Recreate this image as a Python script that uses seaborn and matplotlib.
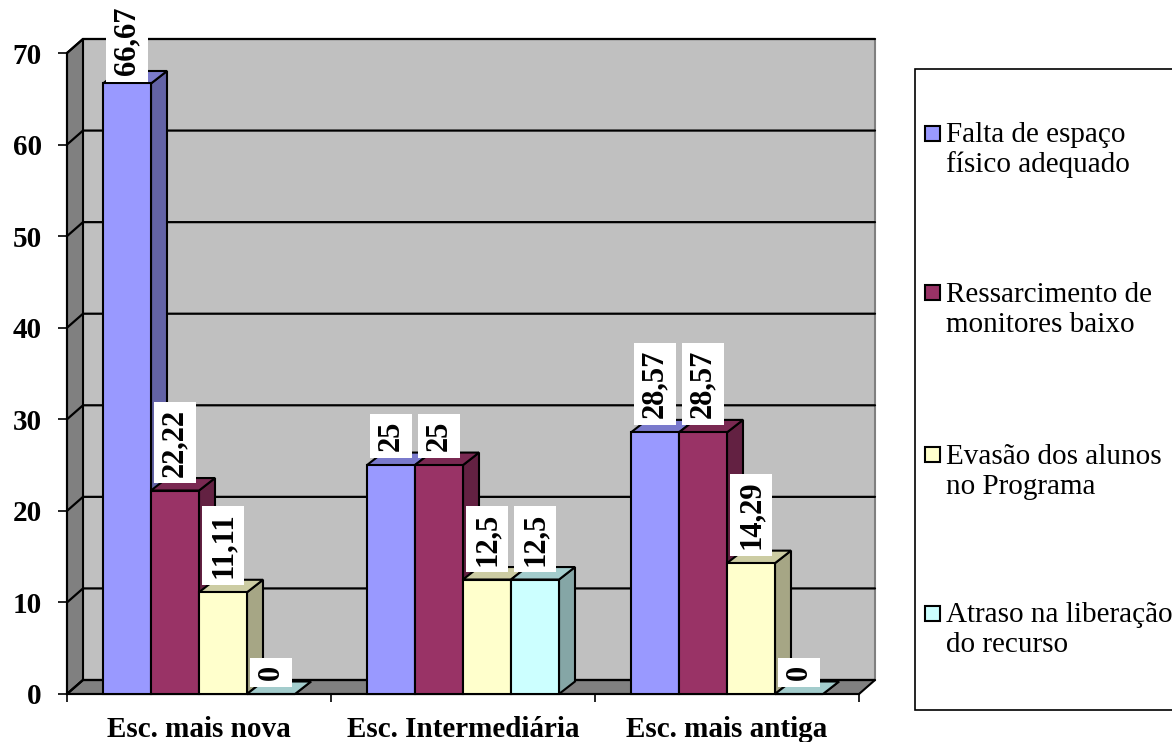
import matplotlib
matplotlib.use("Agg")
import matplotlib.pyplot as plt
from matplotlib.patches import Polygon, Rectangle
import numpy as np
import pandas as pd
import seaborn as sns

# --- data -------------------------------------------------------------
categories = ["Esc. mais nova", "Esc. Intermediária", "Esc. mais antiga"]
series_names = [
    "Falta de espaço\nfísico adequado",
    "Ressarcimento de\nmonitores baixo",
    "Evasão dos alunos\nno Programa",
    "Atraso na liberação\ndo recurso",
]
falta_espaco = [66.67, 25, 28.57]
ressarcimento = [22.22, 25, 28.57]
evasao = [11.11, 12.5, 14.29]
atraso = [0, 12.5, 0]
y_ticks = [0, 10, 20, 30, 40, 50, 60, 70]

colors = ["#9999FF", "#993366", "#FFFFCC", "#CCFFFF"]

rows = []
for name, vals in zip(series_names, [falta_espaco, ressarcimento, evasao, atraso]):
    for cat, v in zip(categories, vals):
        rows.append({"escola": cat, "motivo": name, "valor": v})
df = pd.DataFrame(rows)

# --- style ------------------------------------------------------------
sns.set_theme(style="white")
plt.rcParams["font.family"] = ["Liberation Serif", "DejaVu Serif"]
plt.rcParams["text.color"] = "black"
plt.rcParams["axes.labelcolor"] = "black"
plt.rcParams["xtick.color"] = "black"
plt.rcParams["ytick.color"] = "black"

W, H = 1172, 742
fig = plt.figure(figsize=(W / 100, H / 100), dpi=100)
ax = fig.add_axes([67 / W, (H - 694) / H, 792 / W, 641 / H])
ax.patch.set_visible(False)

sns.barplot(
    data=df, x="escola", y="valor", hue="motivo",
    order=categories, hue_order=series_names, palette=colors,
    width=192 / 264, saturation=1, edgecolor="black", linewidth=1.5,
    errorbar=None, legend=False, ax=ax,
)
bars = [p for p in ax.patches if isinstance(p, Rectangle)]

x0, x1 = -0.5, 2.5
ytop = 70
ax.set_xlim(x0, x1)
ax.set_ylim(0, ytop)

# pixel -> data conversion for the pseudo-3D depth
px_x = 792 / (x1 - x0)
px_y = 641 / ytop
wdx, wdy = 16 / px_x, 14 / px_y      # wall depth
bdx, bdy = 16 / px_x, 12.5 / px_y    # bar depth

# --- walls, floor and gridlines ----------------------------------------
ax.add_patch(Polygon([(x0 + wdx, wdy), (x1 + wdx, wdy), (x1 + wdx, ytop + wdy), (x0 + wdx, ytop + wdy)],
                     closed=True, fc="#C0C0C0", ec="#808080", lw=1.5, zorder=0.5, clip_on=False))
ax.add_patch(Polygon([(x0, 0), (x0 + wdx, wdy), (x0 + wdx, ytop + wdy), (x0, ytop)],
                     closed=True, fc="#808080", ec="black", lw=1.5, zorder=0.6, clip_on=False))
ax.add_patch(Polygon([(x0, 0), (x1, 0), (x1 + wdx, wdy), (x0 + wdx, wdy)],
                     closed=True, fc="#808080", ec="black", lw=1.5, zorder=0.6, clip_on=False))
for v in y_ticks:
    ax.plot([x0, x0 + wdx, x1 + wdx], [v, v + wdy, v + wdy], color="black", lw=1.6,
            zorder=0.8, clip_on=False, solid_joinstyle="miter")


def shade(c, f):
    r, g, b = matplotlib.colors.to_rgb(c)
    return (r * f, g * f, b * f)


def fmt(v):
    return f"{v:g}".replace(".", ",")


# --- 3D faces and value labels ----------------------------------------
order = sorted(range(len(bars)), key=lambda i: bars[i].get_x())
labels = []
for n, i in enumerate(order):
    p = bars[i]
    x, w, h = p.get_x(), p.get_width(), p.get_height()
    fc = p.get_facecolor()
    p.set_zorder(3 + 2 * n)
    p.set_clip_on(False)
    side = Polygon([(x + w, 0), (x + w + bdx, bdy), (x + w + bdx, h + bdy), (x + w, h)],
                   closed=True, fc=shade(fc, 0.65), ec="black", lw=1.5, zorder=2 + 2 * n,
                   clip_on=False, joinstyle="miter")
    top = Polygon([(x, h), (x + bdx, h + bdy), (x + w + bdx, h + bdy), (x + w, h)],
                  closed=True, fc=shade(fc, 0.8), ec="black", lw=1.5, zorder=2 + 2 * n,
                  clip_on=False, joinstyle="miter")
    ax.add_patch(side)
    ax.add_patch(top)
    ann = ax.annotate(
        fmt(h), xy=(x + w / 2, h), xytext=(0, 10), textcoords="offset points",
        rotation=90, ha="center", va="bottom", fontsize=22, fontweight="bold",
        color="black",
        bbox=dict(boxstyle="square,pad=0.22", fc="white", ec="none"),
        zorder=100, annotation_clip=False,
    )
    labels.append(ann)

# --- axes styling -----------------------------------------------------
ax.set_xlabel("")
ax.set_ylabel("")
ax.set_yticks(y_ticks)
ax.set_yticklabels([str(t) for t in y_ticks], fontsize=21, fontweight="bold", color="black")
ax.set_xticks(range(len(categories)))
ax.set_xticklabels(categories, fontsize=21, fontweight="bold", color="black")
ax.set_xticks([x0 + k for k in range(len(categories) + 1)], minor=True)
ax.tick_params(axis="y", direction="out", length=6.5, width=1.2, pad=11.5, colors="black", left=True)
ax.tick_params(axis="x", which="major", length=0, pad=16, colors="black")
ax.tick_params(axis="x", which="minor", direction="out", length=6, width=1.2, colors="black", bottom=True)
for s in ["top", "right"]:
    ax.spines[s].set_visible(False)
for s in ["left", "bottom"]:
    ax.spines[s].set_color("black")
    ax.spines[s].set_linewidth(1.5)
    ax.spines[s].set_zorder(1)

# keep the value boxes inside the figure
fig.canvas.draw()
renderer = fig.canvas.get_renderer()
for ann in labels:
    bb = ann.get_bbox_patch().get_window_extent(renderer)
    if bb.y1 > H:
        ann.xyann = (0, 10 - (bb.y1 - H) * 72 / 100)

# --- legend -----------------------------------------------------------
fig.add_artist(Rectangle((915 / W, 1 - 710 / H), 0.5, (710 - 69) / H, transform=fig.transFigure,
                         fc="white", ec="black", lw=1.2))
entry_centers = [133, 292, 454, 613]
for c, name, col in zip(entry_centers, series_names, colors):
    fig.add_artist(Rectangle((925 / W, 1 - (c + 7.5) / H), 15 / W, 15 / H, transform=fig.transFigure,
                             fc=col, ec="black", lw=1.5))
    first, second = name.split("\n")
    fig.text(946 / W, 1 - (c + 9.5) / H, first, fontsize=21, va="baseline", ha="left", color="black")
    fig.text(946 / W, 1 - (c + 39.5) / H, second, fontsize=21, va="baseline", ha="left", color="black")

fig.savefig("out.png", dpi=100, facecolor="white")
